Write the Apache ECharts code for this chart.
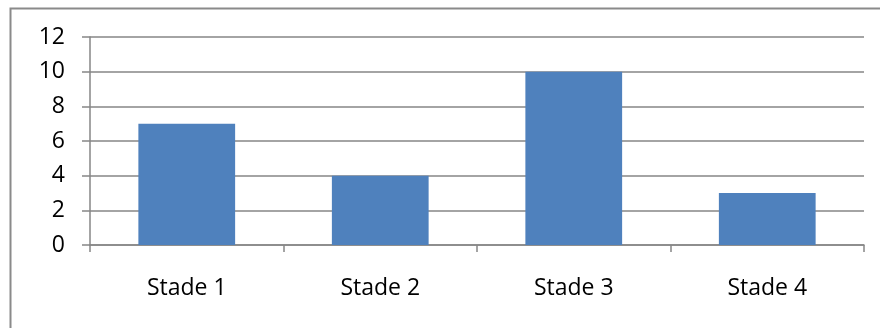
<!DOCTYPE html>
<html>
<head>
<meta charset="utf-8">
<script src="https://cdn.jsdelivr.net/npm/echarts@6/dist/echarts.min.js"></script>
<style>
  html, body { margin: 0; padding: 0; background: #fff; }
  #main { width: 880px; height: 328px; }
</style>
</head>
<body>
<div id="main"></div>
<script>
var categories = ['Stade 1', 'Stade 2', 'Stade 3', 'Stade 4'];
var values = [7, 4, 10, 3];
var yTicks = [0, 2, 4, 6, 8, 10, 12];

var myChart = echarts.init(document.getElementById('main'));

var option = {
    animation: false,
    backgroundColor: '#ffffff',
    // cadre gris (haut et gauche seulement visibles)
    graphic: [
        {
            type: 'polyline',
            shape: { points: [[10.5, 340], [10.5, 8.5], [890, 8.5]] },
            style: { stroke: '#8a8a8a', lineWidth: 2, fill: null }
        }
    ],
    grid: {
        left: 90,
        right: 16,
        top: 37,
        bottom: 83
    },
    xAxis: {
        type: 'category',
        data: categories,
        boundaryGap: true,
        axisLine: { lineStyle: { color: '#868686', width: 1.5 } },
        axisTick: { show: true, length: 7, alignWithLabel: false, lineStyle: { color: '#868686', width: 1.5 } },
        axisLabel: {
            margin: 32,
            color: '#000',
            fontFamily: 'Open Sans',
            fontSize: 23
        }
    },
    yAxis: {
        type: 'value',
        min: yTicks[0],
        max: yTicks[yTicks.length - 1],
        interval: 2,
        axisLine: { show: true, lineStyle: { color: '#868686', width: 1.5 } },
        axisTick: { show: true, length: 8, lineStyle: { color: '#868686', width: 1.5 } },
        splitLine: { show: true, lineStyle: { color: '#868686', width: 1.5 } },
        axisLabel: {
            margin: 25,
            color: '#000',
            fontFamily: 'Open Sans',
            fontSize: 23
        }
    },
    series: [
        {
            type: 'bar',
            data: values,
            barWidth: '50%',
            itemStyle: { color: '#4f81bd' }
        }
    ]
};

myChart.setOption(option);
</script>
</body>
</html>
